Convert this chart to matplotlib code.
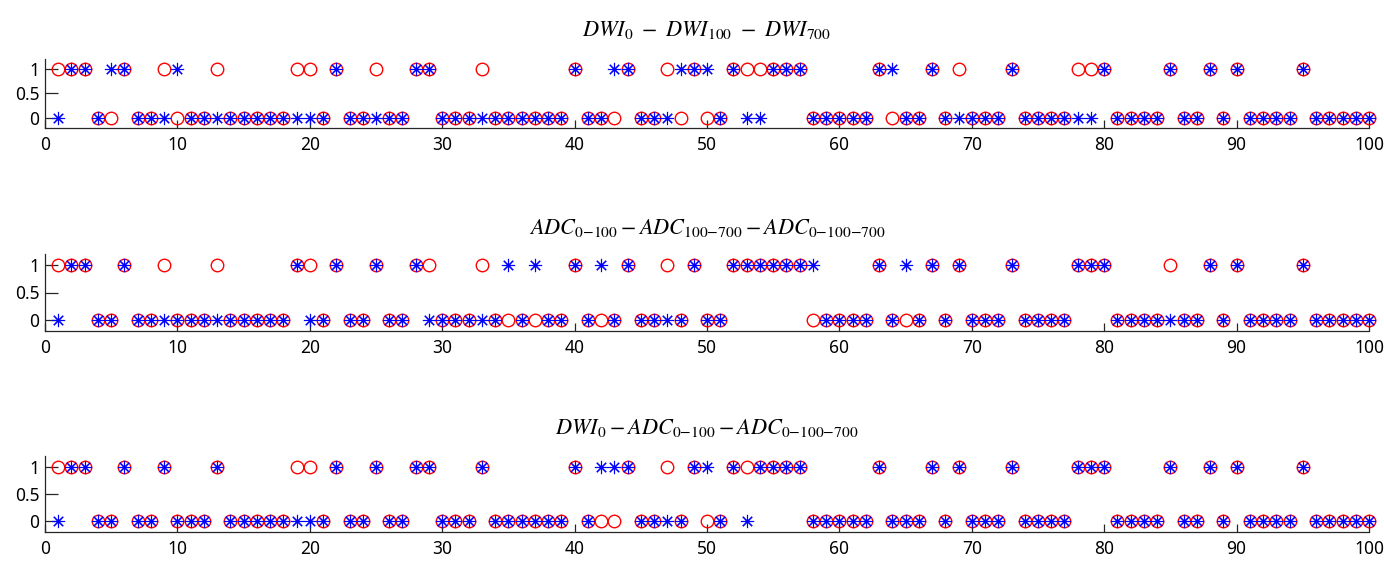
import numpy as np
import matplotlib
matplotlib.use("Agg")
import matplotlib.pyplot as plt


# ---------------------------
# Data (x positions where the label / prediction is 1)
# ---------------------------
n_cases = 100
true_pos = [1, 2, 3, 6, 9, 13, 19, 20, 22, 25, 28, 29, 33, 40, 44, 47, 49,
            52, 53, 54, 55, 56, 57, 63, 67, 69, 73, 78, 79, 80, 85, 88, 90, 95]

pred_dwi = [2, 3, 5, 6, 10, 22, 28, 29, 40, 43, 44, 48, 49, 50, 52, 55, 56,
            57, 63, 64, 67, 73, 80, 85, 88, 90, 95]
pred_adc = [2, 3, 6, 19, 22, 25, 28, 35, 37, 40, 42, 44, 49, 52, 53, 54, 55,
            56, 57, 58, 63, 65, 67, 69, 73, 78, 79, 80, 88, 90, 95]
pred_mix = [2, 3, 6, 9, 13, 22, 25, 28, 29, 33, 40, 42, 43, 44, 49, 50, 52,
            54, 55, 56, 57, 63, 67, 69, 73, 78, 79, 80, 85, 88, 90, 95]

titles = [r"$DWI_0\ -\ DWI_{100}\ -\ DWI_{700}$",
          r"$ADC_{0{-}100}-ADC_{100{-}700}-ADC_{0{-}100{-}700}$",
          r"$DWI_0-ADC_{0{-}100}-ADC_{0{-}100{-}700}$"]
x_ticks = [0, 10, 20, 30, 40, 50, 60, 70, 80, 90, 100]
y_ticks = [0, 0.5, 1]
y_tick_labels = ["0", "0.5", "1"]


def to_binary(pos_list):
    """Turn a list of positive case numbers into a 0/1 vector"""
    y = np.zeros(n_cases)
    y[np.array(pos_list) - 1] = 1
    return y


# ---------------------------
# Plot
# ---------------------------
plt.rcParams['mathtext.fontset'] = 'stix'
plt.rcParams['font.family'] = ['Noto Sans', 'DejaVu Sans']

W, H = 1384, 561
fig = plt.figure(figsize=(W / 100, H / 100), dpi=100)

# axes boxes in pixels: (top, bottom), title centre y
boxes = [(59, 128, 30), (254, 331, 228), (456, 532, 428)]
left_px, right_px = 45, 1369

cases = np.arange(1, n_cases + 1)
y_true = to_binary(true_pos)
grey = '#262626'
asterisk = (8, 2, 0)

for (top, bot, t_y), preds, title in zip(boxes, [pred_dwi, pred_adc, pred_mix], titles):
    ax = fig.add_axes([left_px / W, 1 - bot / H, (right_px - left_px) / W, (bot - top) / H])
    ax.plot(cases, y_true, 'o', ms=9, mfc='none', mec='#ff0000', mew=1.0, clip_on=False)
    ax.plot(cases, to_binary(preds), ls='none', marker=asterisk, ms=9.5, mec='#0000ff',
            mew=0.8, clip_on=False)

    ax.set_xlim(0, 100)
    ax.set_ylim(-0.2, 1.2)
    ax.set_xticks(x_ticks)
    ax.set_yticks(y_ticks)
    ax.set_yticklabels(y_tick_labels)
    for s in ['top', 'right']:
        ax.spines[s].set_visible(False)
    for s in ['left', 'bottom']:
        ax.spines[s].set_color(grey)
        ax.spines[s].set_linewidth(0.9)
    ax.tick_params(axis='x', direction='in', length=6, width=0.9, colors=grey,
                   labelsize=12.5, pad=6, labelcolor='black')
    ax.tick_params(axis='y', direction='in', length=9, width=0.9, colors=grey,
                   labelsize=12.5, pad=4, labelcolor='black')

    x_mid = (left_px + right_px) / 2 / W
    fig.text(x_mid, 1 - t_y / H, title, ha='center', va='center', fontsize=16)

fig.savefig("out.png", dpi=100)
